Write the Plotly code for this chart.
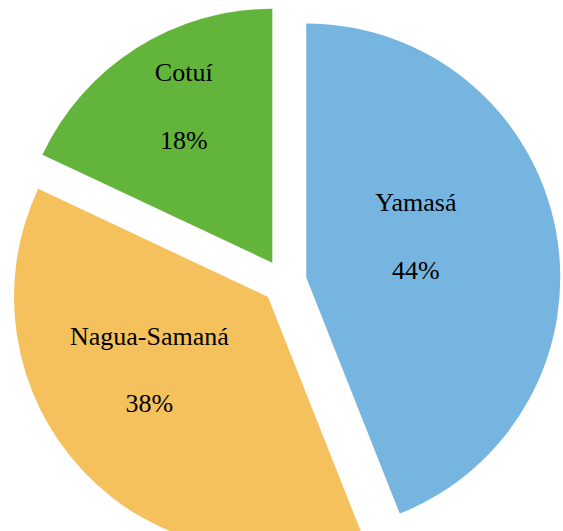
import plotly.graph_objects as go

labels = ["Yamasá", "Nagua-Samaná", "Cotuí"]
values = [44, 38, 18]
colors = ["#76B5DF", "#F5C15D", "#63B43A"]
pulls = [0.088, 0.088, 0.088]

# horizontal padding (non-breaking spaces) used to nudge each label block left
pad = [5, 7, 0]
templates = [
    "%{label}" + "\u00a0" * p + "<br><br>%{percent:.0%}" + "\u00a0" * p + "<br>\u00a0"
    for p in pad
]

fig = go.Figure(go.Pie(
    labels=labels,
    values=values,
    sort=False,
    direction="clockwise",
    rotation=0,
    pull=pulls,
    marker=dict(colors=colors, line=dict(width=0)),
    texttemplate=templates,
    textposition="inside",
    insidetextorientation="horizontal",
    textfont=dict(family="Liberation Serif", size=26, color="black"),
    hoverinfo="label+percent",
    domain=dict(x=[0.01, 1], y=[0, 0.9905]),
))

fig.update_layout(
    width=563,
    height=558,
    margin=dict(l=0, r=0, t=0, b=0),
    showlegend=False,
    paper_bgcolor="white",
    plot_bgcolor="white",
)

fig.write_html(
    "out.html",
    config={"displayModeBar": False},
    post_script="document.body.style.margin='0';document.body.style.overflow='hidden';",
)
